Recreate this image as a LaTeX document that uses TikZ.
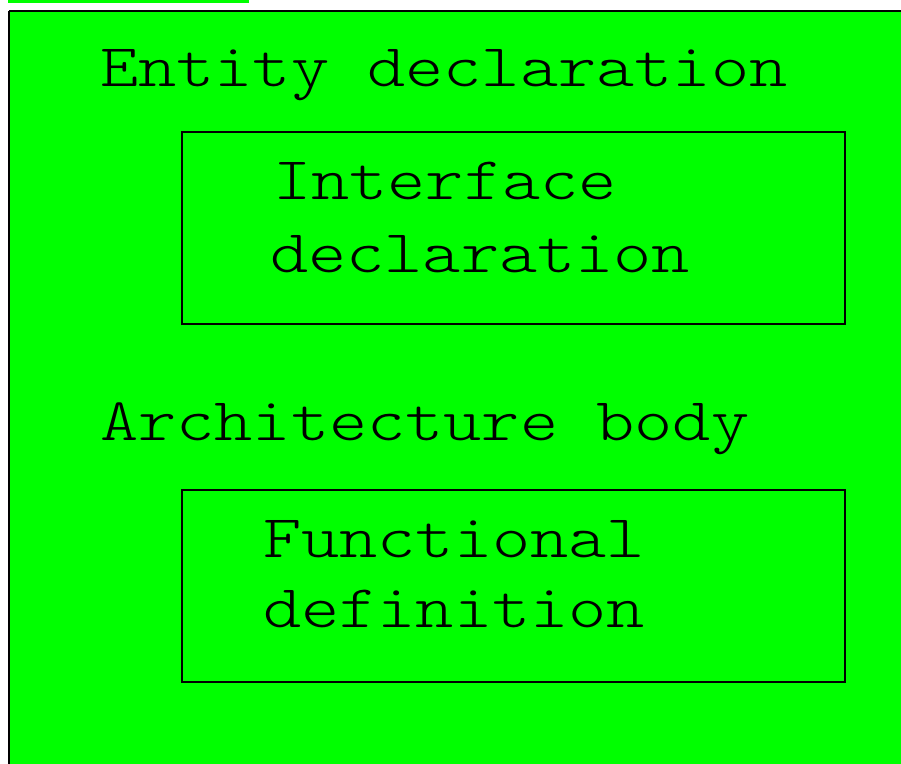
\documentclass[tikz,border=0pt]{standalone}
\usepackage{fontspec}
\newfontfamily\courfont[FakeStretch=1.2]{lmmonolt10-regular.otf}
\definecolor{vgreen}{HTML}{00FF00}
\begin{document}
\begin{tikzpicture}[x=1pt,y=-1pt,
  lbl/.style={anchor=base west,inner sep=0pt,font=\courfont\fontsize{60.6}{70}\selectfont},
  inbox/.style={draw=black,line width=2pt}]
\useasboundingbox (0,0) rectangle (901,763);
\fill[white] (0,0) rectangle (901,763);
\fill[vgreen] (8,0) rectangle (249,3);
\path[fill=vgreen,draw=black,line width=2pt] (9,11) -- (905,11) -- (905,770) -- (9,770) -- (9,11);
\node[inbox,minimum width=663pt,minimum height=192pt,anchor=north west,inner sep=0pt] (b1) at (181,131) {};
\node[inbox,minimum width=663pt,minimum height=192pt,anchor=north west,inner sep=0pt] (b2) at (181,489) {};
\node[lbl] (t1) at (100,86) {Entity declaration};
\node[lbl] (t2) at (273,199) {Interface};
\node[lbl] (t3) at (270,272) {declaration};
\node[lbl] (t4) at (100,440) {Architecture body};
\node[lbl] (t5) at (263,557) {Functional};
\node[lbl] (t6) at (263,627) {definition};
\end{tikzpicture}
\end{document}
